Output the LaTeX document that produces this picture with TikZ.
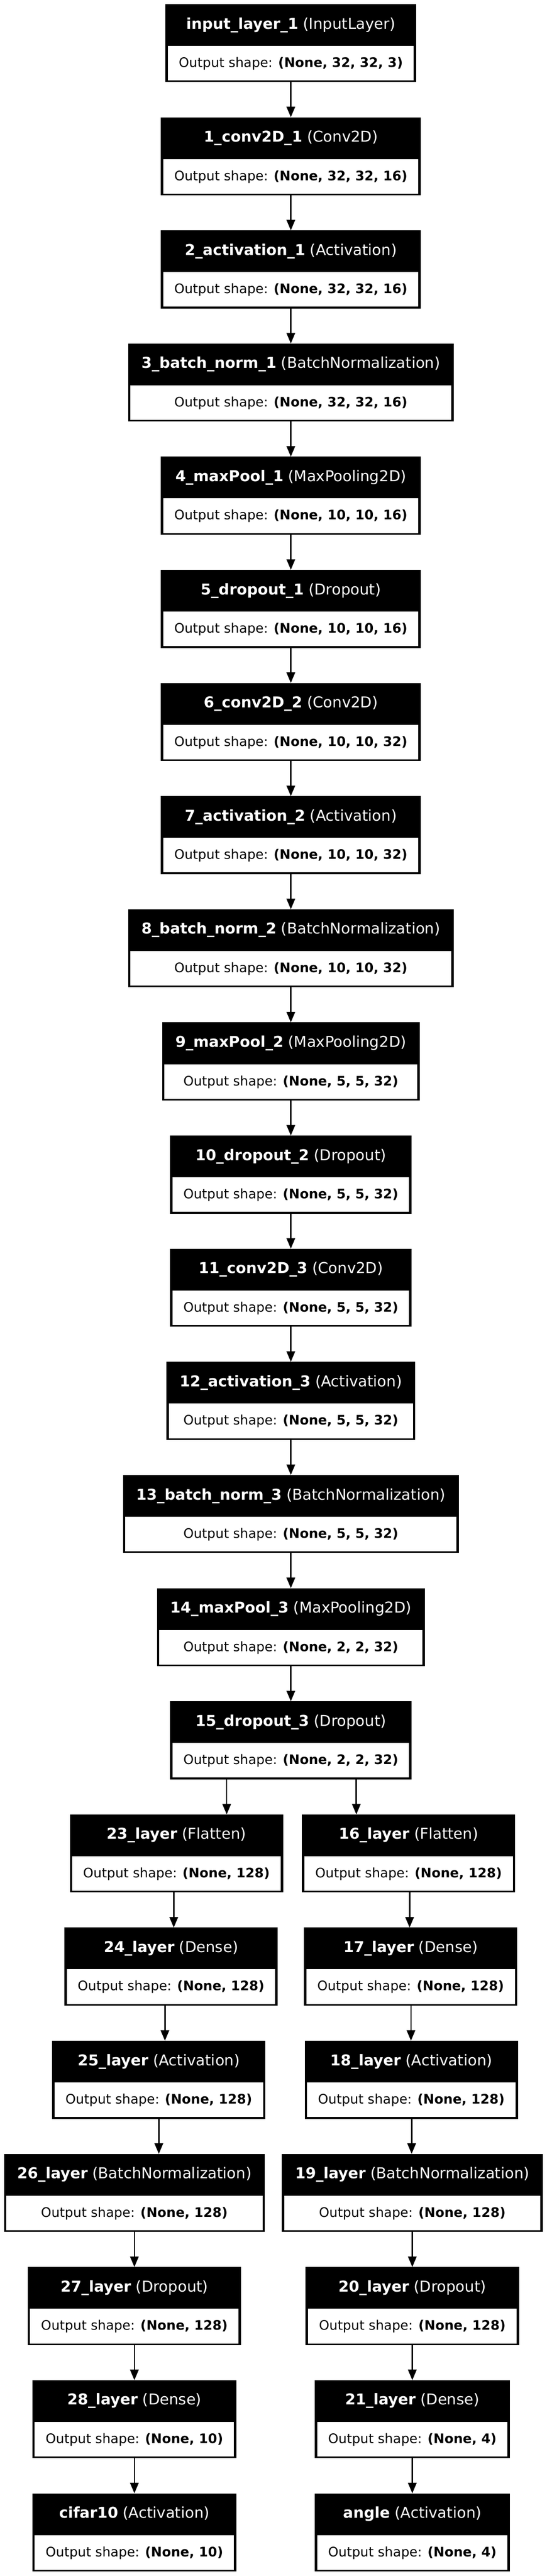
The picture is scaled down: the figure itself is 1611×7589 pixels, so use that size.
\documentclass[tikz,border=0pt]{standalone}
\usepackage{fontspec}
\setmainfont{DejaVu Sans}
\usetikzlibrary{arrows.meta,calc,backgrounds}
\newcommand\ttlfont{\fontsize{44.2}{50}\selectfont}
\newcommand\subtfont{\fontsize{38.7}{45}\selectfont}
\tikzset{
  boxbg/.style={fill=black, draw=none, inner sep=0pt, outer sep=0pt, minimum height=230pt, anchor=north},
  ttltext/.style={anchor=base, text=white, font=\ttlfont, inner sep=0pt},
  subtext/.style={anchor=base, text=black, font=\subtfont, inner sep=0pt},
  arr/.style={line width=4pt, -{Triangle[length=31pt,width=25pt]}},
}
% #1 name, #2 centre x, #3 row, #4 bold name, #5 type, #6 shape
\newcommand{\layerbox}[6]{%
  \pgfmathsetmacro\topA{12+333.333*#3}%
  \node[ttltext] (#1-t) at (#2,\topA+73) {\textbf{#4} #5};
  \node[subtext] (#1-s) at (#2,\topA+186) {Output shape: \textbf{#6}};
  \begin{scope}[on background layer]
    \path let \p1=(#1-t.west), \p2=(#1-t.east), \p3=(#1-s.west), \p4=(#1-s.east),
      \n1={max(\x2-\x1,\x4-\x3)+78pt} in
      node[boxbg, minimum width=\n1] (#1) at (#2,\topA) {};
    \fill[white] ([xshift=7pt,yshift=5pt]#1.south west) rectangle ([xshift=-7pt,yshift=107pt]#1.south east);
  \end{scope}
}
\begin{document}
\begin{tikzpicture}[x=1pt,y=-1pt]
\begin{scope}[on background layer]
  \fill[white] (0,0) rectangle (1611,7589);
\end{scope}
\useasboundingbox (0,0) rectangle (1611,7589);
% main column
\layerbox{n0}{857}{0}{input\_layer\_1}{(InputLayer)}{(None, 32, 32, 3)}
\layerbox{n1}{857}{1}{1\_conv2D\_1}{(Conv2D)}{(None, 32, 32, 16)}
\layerbox{n2}{857}{2}{2\_activation\_1}{(Activation)}{(None, 32, 32, 16)}
\layerbox{n3}{857}{3}{3\_batch\_norm\_1}{(BatchNormalization)}{(None, 32, 32, 16)}
\layerbox{n4}{857}{4}{4\_maxPool\_1}{(MaxPooling2D)}{(None, 10, 10, 16)}
\layerbox{n5}{857}{5}{5\_dropout\_1}{(Dropout)}{(None, 10, 10, 16)}
\layerbox{n6}{857}{6}{6\_conv2D\_2}{(Conv2D)}{(None, 10, 10, 32)}
\layerbox{n7}{857}{7}{7\_activation\_2}{(Activation)}{(None, 10, 10, 32)}
\layerbox{n8}{857}{8}{8\_batch\_norm\_2}{(BatchNormalization)}{(None, 10, 10, 32)}
\layerbox{n9}{857}{9}{9\_maxPool\_2}{(MaxPooling2D)}{(None, 5, 5, 32)}
\layerbox{n10}{857}{10}{10\_dropout\_2}{(Dropout)}{(None, 5, 5, 32)}
\layerbox{n11}{857}{11}{11\_conv2D\_3}{(Conv2D)}{(None, 5, 5, 32)}
\layerbox{n12}{857}{12}{12\_activation\_3}{(Activation)}{(None, 5, 5, 32)}
\layerbox{n13}{857}{13}{13\_batch\_norm\_3}{(BatchNormalization)}{(None, 5, 5, 32)}
\layerbox{n14}{857}{14}{14\_maxPool\_3}{(MaxPooling2D)}{(None, 2, 2, 32)}
\layerbox{n15}{857}{15}{15\_dropout\_3}{(Dropout)}{(None, 2, 2, 32)}
% left branch
\layerbox{n23}{520}{16}{23\_layer}{(Flatten)}{(None, 128)}
\layerbox{n24}{504}{17}{24\_layer}{(Dense)}{(None, 128)}
\layerbox{n25}{468}{18}{25\_layer}{(Activation)}{(None, 128)}
\layerbox{n26}{396}{19}{26\_layer}{(BatchNormalization)}{(None, 128)}
\layerbox{n27}{396}{20}{27\_layer}{(Dropout)}{(None, 128)}
\layerbox{n28}{396}{21}{28\_layer}{(Dense)}{(None, 10)}
\layerbox{ncifar}{396}{22}{cifar10}{(Activation)}{(None, 10)}
% right branch
\layerbox{n16}{1204}{16}{16\_layer}{(Flatten)}{(None, 128)}
\layerbox{n17}{1210}{17}{17\_layer}{(Dense)}{(None, 128)}
\layerbox{n18}{1212}{18}{18\_layer}{(Activation)}{(None, 128)}
\layerbox{n19}{1215}{19}{19\_layer}{(BatchNormalization)}{(None, 128)}
\layerbox{n20}{1215}{20}{20\_layer}{(Dropout)}{(None, 128)}
\layerbox{n21}{1215}{21}{21\_layer}{(Dense)}{(None, 4)}
\layerbox{nangle}{1215}{22}{angle}{(Activation)}{(None, 4)}
% arrows, main column
\foreach \a/\b in {n0/n1,n1/n2,n2/n3,n3/n4,n4/n5,n5/n6,n6/n7,n7/n8,n8/n9,n9/n10,n10/n11,n11/n12,n12/n13,n13/n14,n14/n15}
  \draw[arr] (\a.south) -- (\b.north);
% arrow columns in the branches
\coordinate (xa) at (668,0);
\coordinate (xb) at (1050,0);
\coordinate (xc) at (512,0);
\coordinate (xd) at (1207,0);
\coordinate (xe) at (486,0);
\coordinate (xf) at (1211,0);
\coordinate (xg) at (468,0);
\coordinate (xh) at (1213,0);
\coordinate (xi) at (396,0);
\coordinate (xj) at (1215,0);
\draw[arr] (n15.south -| xa) -- (n23.north -| xa);
\draw[arr] (n15.south -| xb) -- (n16.north -| xb);
\draw[arr] (n23.south -| xc) -- (n24.north -| xc);
\draw[arr] (n16.south -| xd) -- (n17.north -| xd);
\draw[arr] (n24.south -| xe) -- (n25.north -| xe);
\draw[arr] (n17.south -| xf) -- (n18.north -| xf);
\draw[arr] (n25.south -| xg) -- (n26.north -| xg);
\draw[arr] (n18.south -| xh) -- (n19.north -| xh);
\draw[arr] (n26.south -| xi) -- (n27.north -| xi);
\draw[arr] (n19.south -| xj) -- (n20.north -| xj);
\draw[arr] (n27.south -| xi) -- (n28.north -| xi);
\draw[arr] (n20.south -| xj) -- (n21.north -| xj);
\draw[arr] (n28.south -| xi) -- (ncifar.north -| xi);
\draw[arr] (n21.south -| xj) -- (nangle.north -| xj);
\end{tikzpicture}
\end{document}
